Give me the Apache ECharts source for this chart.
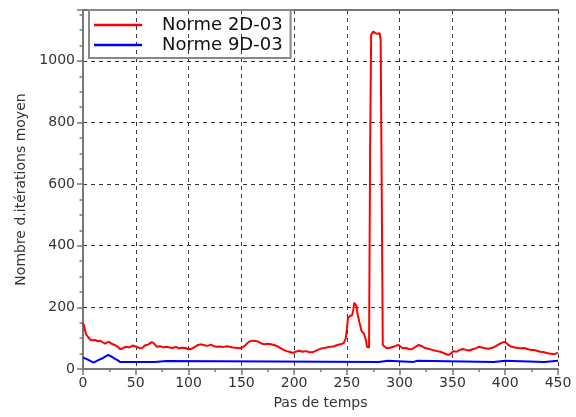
<!DOCTYPE html>
<html><head><meta charset="utf-8">
<script src="https://cdn.jsdelivr.net/npm/echarts@6/dist/echarts.min.js"></script>
<style>html,body{margin:0;padding:0;background:#fff}#c{width:576px;height:417px}</style>
</head><body><div id="c"></div>
<script>
const seriesNames = ['Norme 2D-03', 'Norme 9D-03'];
const xTitle = 'Pas de temps';
const yTitle = 'Nombre d.itérations moyen';
const redX = [0,1,2,3,5,7,9,12,14,16,19,21,23,25,27,30,33,35,37,39,41,44,47,49,51,54,56,59,62,65,67,70,73,76,79,82,85,88,91,94,97,100,103,106,109,112,115,118,121,124,127,130,133,136,139,142,145,148,151,154,157,160,163,166,169,172,175,178,181,184,187,190,193,196,199,202,205,208,211,214,217,220,223,226,229,232,235,238,241,244,247,249,250,251,253,255,256,257,258,259,260,262,264,266,267,268,269,270,271,272,273,275,277,279,281,282,283,284,286,288,291,294,297,299,301,303,306,309,312,315,318,321,324,327,330,333,336,339,342,345,347,349,351,354,357,360,363,366,369,372,375,378,381,384,387,390,393,396,399,401,403,406,409,412,415,418,421,424,427,430,433,436,439,442,445,447,450];
const redY = [150,140,125,112,103,95,93,94,90,92,86,82,87,88,82,78,72,65,66,70,72,70,76,74,72,67,68,77,80,87,84,72,74,70,72,70,68,72,67,69,68,64,66,72,78,80,77,75,79,74,72,73,71,74,72,70,69,67,70,78,88,92,91,89,83,80,82,80,78,74,68,62,58,55,52,57,59,56,58,55,54,58,63,67,68,71,72,74,78,80,84,100,130,165,172,175,190,215,218,205,180,150,122,116,120,95,72,67,70,712,1085,1095,1090,1088,1090,1068,580,78,72,67,69,72,76,78,72,67,68,64,65,72,78,74,68,66,63,60,58,55,51,47,46,52,58,56,62,65,62,60,64,67,72,70,67,66,68,72,78,84,88,85,78,72,70,68,67,68,65,62,62,59,56,55,52,50,49,48,53];
const blueX = [0,3,6,10,14,18,21,24,27,30,33,35,68,69,79,80,280,281,289,290,313,314,317,318,389,390,400,401,437,438,450];
const blueY = [37,33,28,21,28,34,40,46,40,34,28,23,23,26,26,23,23,27,27,23,23,27,27,23,23,27,27,23,23,27,27];
const xTicks = {min: 0, max: 450, step: 50};
const yTicks = {min: 0, max: 1165, step: 200};

const font = 'DejaVu Sans';
const pair = (xs, ys) => xs.map((x, i) => [x, ys[i]]);
const chart = echarts.init(document.getElementById('c'), null, {renderer: 'canvas'});
chart.setOption({
  animation: false,
  backgroundColor: '#fff',
  grid: {left: 83, right: 18, top: 10, bottom: 48},
  legend: {
    orient: 'vertical', left: 89, top: 10,
    padding: [5, 8, 3, 5],
    itemGap: 0, itemWidth: 48, itemHeight: 2.5, icon: 'rect',
    borderColor: '#888', borderWidth: 2,
    textStyle: {fontFamily: font, fontSize: 18, color: '#111', padding: [0, 0, 0, 15], lineHeight: 20},
    data: seriesNames
  },
  xAxis: [{
    type: 'value', min: xTicks.min, max: xTicks.max, interval: xTicks.step,
    name: xTitle, nameLocation: 'middle', nameGap: 27,
    nameTextStyle: {fontFamily: font, fontSize: 14, color: '#333'},
    axisLine: {lineStyle: {color: '#777', width: 2}},
    axisTick: {length: 6, lineStyle: {color: '#777', width: 1.5}},
    minorTick: {show: true, splitNumber: 2, length: 3, lineStyle: {color: '#777', width: 1.5}},
    axisLabel: {fontFamily: font, fontSize: 14, color: '#333', margin: 7},
    splitLine: {show: true, lineStyle: {color: '#333', type: [4, 4], width: 1}}
  }, {
    type: 'value', position: 'top', min: xTicks.min, max: xTicks.max,
    axisLine: {show: true, lineStyle: {color: '#777', width: 2}},
    axisTick: {show: false}, axisLabel: {show: false}, splitLine: {show: false}
  }],
  yAxis: [{
    type: 'value', min: yTicks.min, max: yTicks.max, interval: yTicks.step,
    name: yTitle, nameLocation: 'middle', nameGap: 46, nameRotate: 90,
    nameTextStyle: {fontFamily: font, fontSize: 14, color: '#333'},
    axisLine: {show: true, lineStyle: {color: '#777', width: 2}},
    axisTick: {show: true, length: 6, lineStyle: {color: '#777', width: 1.5}},
    minorTick: {show: true, splitNumber: 4, length: 3.5, lineStyle: {color: '#777', width: 1.5}},
    axisLabel: {fontFamily: font, fontSize: 14, color: '#333', margin: 8, showMaxLabel: false,
      formatter: v => String(v)},
    splitLine: {show: true, lineStyle: {color: '#333', type: [4, 4], width: 1}}
  }],
  series: [{
    name: seriesNames[0], type: 'line', data: pair(redX, redY),
    symbol: 'none', color: '#ff0000', lineStyle: {width: 2}, z: 3
  }, {
    name: seriesNames[1], type: 'line', data: pair(blueX, blueY),
    symbol: 'none', color: '#0000ff', lineStyle: {width: 2}, z: 2
  }]
});
</script></body></html>
